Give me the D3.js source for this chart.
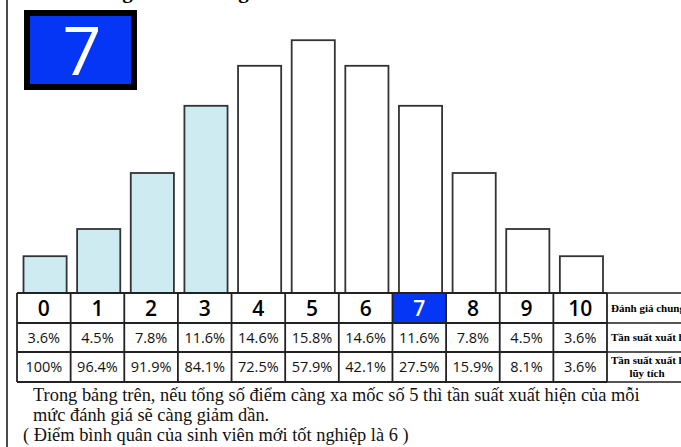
<!DOCTYPE html>
<html><head><meta charset="utf-8">
<script src="https://cdn.jsdelivr.net/npm/d3@7"></script>
<style>html,body{margin:0;padding:0;background:#fff;overflow:hidden}</style>
</head><body>
<script>
// ---- data ----
const scores = ["0","1","2","3","4","5","6","7","8","9","10"];
const barValues = [2.3, 4.0, 7.5, 11.7, 14.2, 15.8, 14.2, 11.7, 7.5, 4.0, 2.3]; // bar heights (%)
const freq = ["3.6%","4.5%","7.8%","11.6%","14.6%","15.8%","14.6%","11.6%","7.8%","4.5%","3.6%"];
const cumFreq = ["100%","96.4%","91.9%","84.1%","72.5%","57.9%","42.1%","27.5%","15.9%","8.1%","3.6%"];
const rowLabels = ["Đánh giá chung", "Tần suất xuất hiện", ["Tần suất xuất hiện", "lũy tích"]];
const highlight = "7";
const shaded = ["0","1","2","3"];
const titleText = "Tổng điểm đánh giá";
const notes = ["Trong bảng trên, nếu tổng số điểm càng xa mốc số 5 thì tần suất xuất hiện của mỗi",
               "mức đánh giá sẽ càng giảm dần.",
               "( Điểm bình quân của sinh viên mới tốt nghiệp là 6 )"];

const W = 681, H = 447;
const svg = d3.select("body").append("svg").attr("width", W).attr("height", H);

const x = d3.scaleBand().domain(scores).range([17, 607]).padding(0);
const y = d3.scaleLinear().domain([0, 16]).range([293, 37]);
const rows = [293, 323, 352, 382];
const blue = "#0536f5";

// left border
svg.append("line").attr("x1", 7).attr("x2", 7).attr("y1", 0).attr("y2", H)
  .attr("stroke", "#111").attr("stroke-width", 1.5);

// cut-off title (only descenders visible)
svg.append("text").attr("x", 86).attr("y", -2)
  .attr("font-family", "Liberation Serif, serif").attr("font-weight", "bold").attr("font-size", 21)
  .text(titleText);

// bars
const insetL = 6.5, insetR = 4;
svg.append("g").selectAll("rect").data(scores).join("rect")
  .attr("x", d => x(d) + insetL)
  .attr("width", x.bandwidth() - insetL - insetR)
  .attr("y", (d, i) => y(barValues[i]))
  .attr("height", (d, i) => y(0) - y(barValues[i]))
  .attr("fill", d => shaded.includes(d) ? "#cdebf1" : "#fff")
  .attr("stroke", "#333").attr("stroke-width", 1.8);

// big highlighted box
svg.append("rect").attr("x", 27).attr("y", 13).attr("width", 107).attr("height", 74)
  .attr("fill", blue).attr("stroke", "#000").attr("stroke-width", 6);
svg.append("text").attr("x", 82).attr("y", 75).attr("text-anchor", "middle")
  .attr("font-family", "Open Sans, sans-serif").attr("font-size", 68).attr("fill", "#fff")
  .text(highlight);

// table
const tbl = svg.append("g");
tbl.append("rect").attr("x", x(highlight)).attr("y", rows[0])
  .attr("width", x.bandwidth()).attr("height", rows[1] - rows[0]).attr("fill", blue);
tbl.selectAll("line.h").data(rows).join("line").attr("class", "h")
  .attr("x1", 17).attr("x2", 607).attr("y1", d => d).attr("y2", d => d)
  .attr("stroke", "#222").attr("stroke-width", 1.8);
tbl.selectAll("line.h2").data(rows).join("line").attr("class", "h2")
  .attr("x1", 607).attr("x2", W).attr("y1", d => d).attr("y2", d => d)
  .attr("stroke", "#555").attr("stroke-width", 1.8);
const vx = scores.map(d => x(d)).concat([607]);
tbl.selectAll("line.v").data(vx).join("line").attr("class", "v")
  .attr("x1", d => d).attr("x2", d => d).attr("y1", rows[0]).attr("y2", rows[3])
  .attr("stroke", "#222").attr("stroke-width", 1.8);

tbl.selectAll("text.s").data(scores).join("text").attr("class", "s")
  .attr("x", d => x(d) + x.bandwidth() / 2).attr("y", 316)
  .attr("text-anchor", "middle").attr("font-family", "Open Sans, sans-serif")
  .attr("font-weight", 600).attr("font-size", 21)
  .attr("fill", d => d === highlight ? "#fff" : "#000").text(d => d);
tbl.selectAll("text.f").data(freq).join("text").attr("class", "f")
  .attr("x", (d, i) => x(scores[i]) + x.bandwidth() / 2).attr("y", 343)
  .attr("text-anchor", "middle").attr("font-family", "Open Sans, sans-serif")
  .attr("font-size", 14.5).attr("fill", "#111").text(d => d);
tbl.selectAll("text.c").data(cumFreq).join("text").attr("class", "c")
  .attr("x", (d, i) => x(scores[i]) + x.bandwidth() / 2).attr("y", 372)
  .attr("text-anchor", "middle").attr("font-family", "Open Sans, sans-serif")
  .attr("font-size", 14.5).attr("fill", "#111").text(d => d);

const lf = "Liberation Serif, serif";
tbl.append("text").attr("x", 611).attr("y", 312).attr("font-family", lf)
  .attr("font-weight", "bold").attr("font-size", 11).text(rowLabels[0]);
tbl.append("text").attr("x", 611).attr("y", 341).attr("font-family", lf)
  .attr("font-weight", "bold").attr("font-size", 11).text(rowLabels[1]);
tbl.append("text").attr("x", 611).attr("y", 364).attr("font-family", lf)
  .attr("font-weight", "bold").attr("font-size", 11).text(rowLabels[2][0]);
tbl.append("text").attr("x", 647).attr("y", 377).attr("text-anchor", "middle").attr("font-family", lf)
  .attr("font-weight", "bold").attr("font-size", 11).text(rowLabels[2][1]);

const nx = [33, 33, 23], ny = [401, 421, 441];
svg.selectAll("text.n").data(notes).join("text").attr("class", "n")
  .attr("x", (d, i) => nx[i]).attr("y", (d, i) => ny[i])
  .attr("font-family", lf).attr("font-size", 18.4).attr("fill", "#111").text(d => d);
</script>
</body></html>
